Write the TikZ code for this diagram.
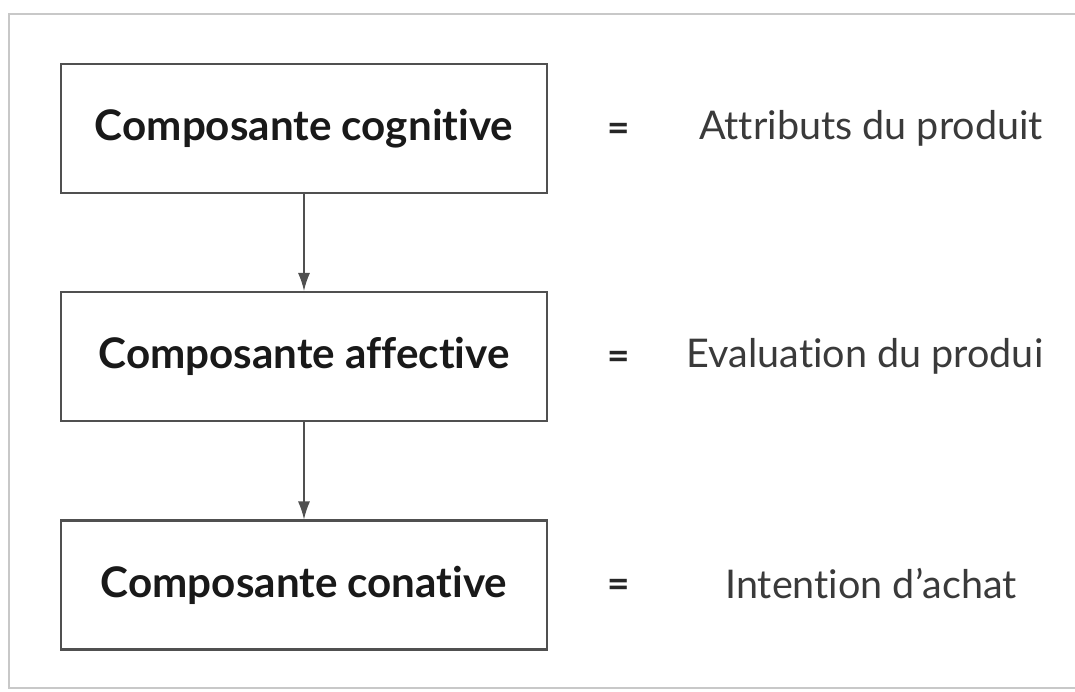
\documentclass[tikz,border=0pt]{standalone}
\usepackage{fontspec}
\setmainfont{Lato}[Ligatures=NoCommon]
\usetikzlibrary{positioning,arrows.meta}

\definecolor{framegray}{HTML}{C8C8C8}
\definecolor{boxgray}{HTML}{505050}
\definecolor{textgray}{HTML}{3A3A3A}

\begin{document}
\begin{tikzpicture}[x=0.02cm,y=-0.02cm,>={Latex[length=3.6mm,width=2.4mm]},
  composante/.style={draw=boxgray,line width=1.2pt,minimum width=9.72cm,minimum height=2.58cm,font=\fontsize{24}{28}\selectfont\bfseries,text=black!90},
  egal/.style={font=\fontsize{22}{26}\selectfont\bfseries,text=black!85},
  effet/.style={font=\fontsize{22.5}{26}\selectfont,text=textgray}]

\useasboundingbox (0,0) rectangle (1075,691);
% frame
\draw[framegray,line width=1.2pt] (1080,14) -- (9,14) -- (9,688) -- (1080,688);

% Components
\path
(304,128.5) node[composante] (cog) {Composante cognitive}
+(0,228)    node[composante] (aff) {Composante affective}
+(0,456.5)  node[composante] (con) {Composante conative};

% Equal signs and meanings
\path
(619,132) node[egal] (eq1) {=}
+(0,228)  node[egal] (eq2) {=}
+(0,456)  node[egal] (eq3) {=}
(871,128) node[effet] (attr) {Attributs du produit}
+(-6,228) node[effet] (eval) {Evaluation du produi}
+(0,456)  node[effet] (inte) {Intention d’achat};

\draw[->, boxgray, line width=0.8pt] (cog)--(aff);
\draw[->, boxgray, line width=0.8pt] (aff)--(con);

\end{tikzpicture}
\end{document}
